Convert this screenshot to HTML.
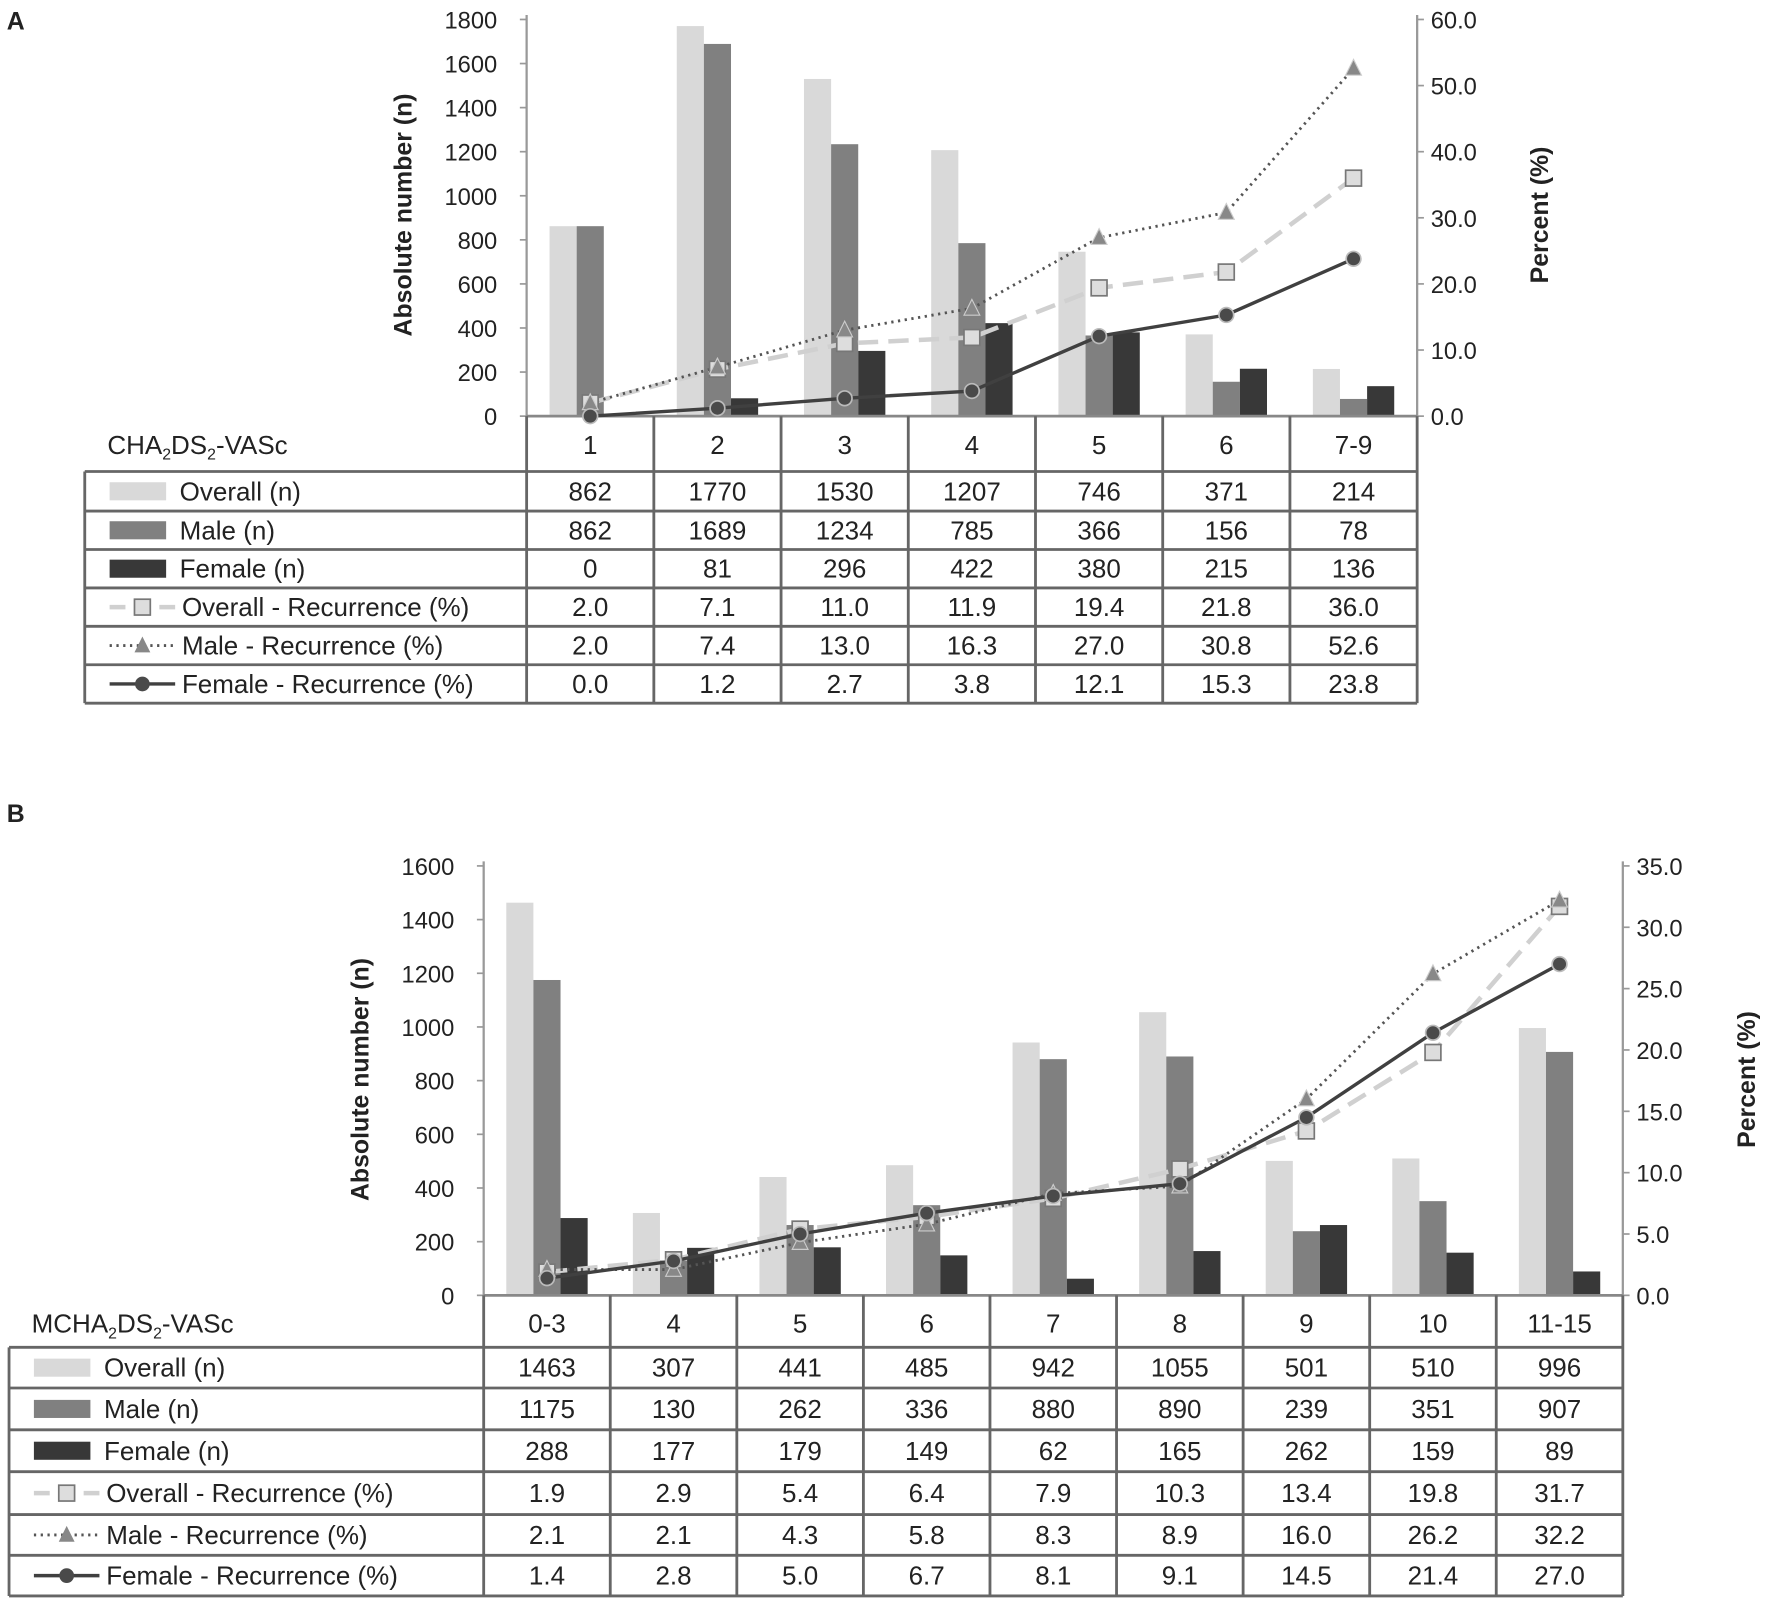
<!DOCTYPE html>
<html><head><meta charset="utf-8"><style>
html,body{margin:0;padding:0;background:#fff}
svg{display:block}
text{font-family:"Liberation Sans",Arial,sans-serif;fill:#222}
</style></head><body>
<svg id="fig" width="1772" height="1603" viewBox="0 0 1568 1418" xmlns="http://www.w3.org/2000/svg">
<rect width="1568" height="1418" fill="#fff"/>
<text x="6" y="26" font-size="22" font-weight="bold">A</text>
<text x="6" y="727" font-size="22" font-weight="bold">B</text>
<g id="pa"></g>
<g id="pb"></g>
</svg>
<script>
// Panel A data
const catsA = ["1","2","3","4","5","6","7-9"];
const overallA = [862,1770,1530,1207,746,371,214];
const maleA = [862,1689,1234,785,366,156,78];
const femaleA = [0,81,296,422,380,215,136];
const overallRecA = [2.0,7.1,11.0,11.9,19.4,21.8,36.0];
const maleRecA = [2.0,7.4,13.0,16.3,27.0,30.8,52.6];
const femaleRecA = [0.0,1.2,2.7,3.8,12.1,15.3,23.8];
const leftTicksA = [0,200,400,600,800,1000,1200,1400,1600,1800];
const rightTicksA = [0,10,20,30,40,50,60];
// Panel B data
const catsB = ["0-3","4","5","6","7","8","9","10","11-15"];
const overallB = [1463,307,441,485,942,1055,501,510,996];
const maleB = [1175,130,262,336,880,890,239,351,907];
const femaleB = [288,177,179,149,62,165,262,159,89];
const overallRecB = [1.9,2.9,5.4,6.4,7.9,10.3,13.4,19.8,31.7];
const maleRecB = [2.1,2.1,4.3,5.8,8.3,8.9,16.0,26.2,32.2];
const femaleRecB = [1.4,2.8,5.0,6.7,8.1,9.1,14.5,21.4,27.0];
const leftTicksB = [0,200,400,600,800,1000,1200,1400,1600];
const rightTicksB = [0,5,10,15,20,25,30,35];

const NS="http://www.w3.org/2000/svg";
function mk(parent,tag,attrs,txt){const e=document.createElementNS(NS,tag);for(const k in attrs)e.setAttribute(k,attrs[k]);if(txt!==undefined)e.textContent=txt;parent.appendChild(e);return e;}

function draw(g,o){
  const yL=v=>o.y0-(v/o.lmax)*(o.y0-o.y1);
  const yR=v=>o.y0-(v/o.rmax)*(o.y0-o.y1);
  const n=o.cats.length, cw=(o.x1-o.x0)/n;
  const xc=i=>o.x0+cw*(i+0.5);
  const bw=24;
  const series=[[o.overall,"#d9d9d9",-36,"overall"],[o.male,"#808080",-12,"male"],[o.female,"#383838",12,"female"]];
  series.forEach(s=>{s[0].forEach((v,i)=>{
    const r=mk(g,"rect",{x:xc(i)+s[2],y:yL(v),width:bw,height:o.y0-yL(v),fill:s[1]});
    
    
  });});
  const la=mk(g,"line",{x1:o.x0,y1:o.y1-4,x2:o.x0,y2:o.y0,stroke:"#999","stroke-width":2});
  
  
  const ra=mk(g,"line",{x1:o.x1,y1:o.y1-4,x2:o.x1,y2:o.y0,stroke:"#999","stroke-width":2});
  
  
  const xa=mk(g,"line",{x1:o.x0,y1:o.y0,x2:o.x1,y2:o.y0,stroke:"#888","stroke-width":2.5});
  
  
  o.lt.forEach(v=>{
    mk(g,"line",{x1:o.x0-6,y1:yL(v),x2:o.x0,y2:yL(v),stroke:"#999","stroke-width":1.5});
    const t=mk(g,"text",{x:o.x0-26,y:yL(v)+8,"font-size":21,"text-anchor":"end"},String(v));
    
    
  });
  o.rt.forEach(v=>{
    mk(g,"line",{x1:o.x1,y1:yR(v),x2:o.x1+6,y2:yR(v),stroke:"#999","stroke-width":1.5});
    const t=mk(g,"text",{x:o.x1+12,y:yR(v)+8,"font-size":21},v.toFixed(1));
    
    
  });
  const yt=mk(g,"text",{x:0,y:0,"font-size":22,"font-weight":"bold","text-anchor":"middle",transform:`translate(${o.ltx},${o.tcy}) rotate(-90)`},"Absolute number (n)");
  
  
  const rt=mk(g,"text",{x:0,y:0,"font-size":22,"font-weight":"bold","text-anchor":"middle",transform:`translate(${o.rtx},${o.tcy}) rotate(-90)`},"Percent (%)");
  
  
  const ls=[[o.orec,"#d0d0d0",4,"18 9","sq","overall-recurrence"],[o.mrec,"#555",2.5,"2 4","tri","male-recurrence"],[o.frec,"#404040",3,"","circ","female-recurrence"]];
  ls.forEach(l=>{
    const pts=l[0].map((v,i)=>xc(i)+","+yR(v)).join(" ");
    const pl=mk(g,"polyline",{points:pts,fill:"none",stroke:l[1],"stroke-width":l[2],"stroke-dasharray":l[3]});
    
    
  });
  ls.forEach(l=>{l[0].forEach((v,i)=>{
    const x=xc(i),y=yR(v);let m;
    if(l[4]=="sq")m=mk(g,"rect",{x:x-7,y:y-7,width:14,height:14,fill:"#ddd",stroke:"#777","stroke-width":1.5});
    else if(l[4]=="tri")m=mk(g,"polygon",{points:`${x},${y-8} ${x-7},${y+6} ${x+7},${y+6}`,fill:"#888",stroke:"#ccc","stroke-width":1});
    else m=mk(g,"circle",{cx:x,cy:y,r:6.5,fill:"#4a4a4a",stroke:"#bbb","stroke-width":1.5});
    
    
  });});
  const T=o.tb;
  const bs={stroke:"#666","stroke-width":2.5};
  for(let i=0;i<=n;i++){mk(g,"line",Object.assign({x1:o.x0+cw*i,y1:o.y0,x2:o.x0+cw*i,y2:T[T.length-1]},bs));}
  mk(g,"line",Object.assign({x1:o.tx,y1:T[1],x2:o.tx,y2:T[T.length-1]},bs));
  for(let r=1;r<T.length;r++){mk(g,"line",Object.assign({x1:o.tx,y1:T[r],x2:o.x1,y2:T[r]},bs));}
  const hl=mk(g,"text",{x:o.hx,y:(T[0]+T[1])/2+8,"font-size":23},"");
  
  
  hl.innerHTML=o.hpre+'CHA<tspan font-size="14" dy="5">2</tspan><tspan dy="-5">DS</tspan><tspan font-size="14" dy="5">2</tspan><tspan dy="-5">-VASc</tspan>';
  o.cats.forEach((c,i)=>{
    const t=mk(g,"text",{x:xc(i),y:(T[0]+T[1])/2+8,"font-size":23,"text-anchor":"middle","font-weight":"500"},c);
    
    
  });
  const rows=[["Overall (n)",o.overall,v=>String(v)],["Male (n)",o.male,v=>String(v)],["Female (n)",o.female,v=>String(v)],
    ["Overall - Recurrence (%)",o.orec,v=>v.toFixed(1)],["Male - Recurrence (%)",o.mrec,v=>v.toFixed(1)],["Female - Recurrence (%)",o.frec,v=>v.toFixed(1)]];
  rows.forEach((r,ri)=>{
    const cy=(T[ri+1]+T[ri+2])/2;
    const sx=o.tx+22;
    if(ri<3){mk(g,"rect",{x:sx,y:cy-8,width:50,height:16,fill:["#d9d9d9","#808080","#383838"][ri]});}
    else if(ri==3){mk(g,"line",{x1:sx,y1:cy,x2:sx+58,y2:cy,stroke:"#d0d0d0","stroke-width":4,"stroke-dasharray":"14 8"});mk(g,"rect",{x:sx+22,y:cy-7,width:14,height:14,fill:"#ddd",stroke:"#777","stroke-width":1.5});}
    else if(ri==4){mk(g,"line",{x1:sx,y1:cy,x2:sx+58,y2:cy,stroke:"#555","stroke-width":2.5,"stroke-dasharray":"2 4"});mk(g,"polygon",{points:`${sx+29},${cy-8} ${sx+22},${cy+6} ${sx+36},${cy+6}`,fill:"#888"});}
    else {mk(g,"line",{x1:sx,y1:cy,x2:sx+58,y2:cy,stroke:"#404040","stroke-width":3});mk(g,"circle",{cx:sx+29,cy:cy,r:6.5,fill:"#4a4a4a"});}
    const lb=mk(g,"text",{x:sx+(ri<3?62:64),y:cy+8,"font-size":23,"font-weight":"500"},r[0]);
    
    
    r[1].forEach((v,i)=>{
      const t=mk(g,"text",{x:xc(i),y:cy+8,"font-size":23,"text-anchor":"middle","font-weight":"500"},r[2](v));
      
      
    });
  });
}
draw(document.getElementById('pa'),{cats:catsA,overall:overallA,male:maleA,female:femaleA,orec:overallRecA,mrec:maleRecA,frec:femaleRecA,
  lt:leftTicksA,rt:rightTicksA,lmax:1800,rmax:60,x0:466,x1:1254,y0:368,y1:17,ltx:364,rtx:1370,tcy:190,
  tb:[370,417,452,486,520,554,588,622],tx:75,hx:95,hpre:""});
draw(document.getElementById('pb'),{cats:catsB,overall:overallB,male:maleB,female:femaleB,orec:overallRecB,mrec:maleRecB,frec:femaleRecB,
  lt:leftTicksB,rt:rightTicksB,lmax:1600,rmax:35,x0:428,x1:1436,y0:1146,y1:766,ltx:326,rtx:1553,tcy:955,
  tb:[1150,1192,1228,1265,1302,1340,1376,1412],tx:8,hx:28,hpre:"M"});
</script>
</body></html>
